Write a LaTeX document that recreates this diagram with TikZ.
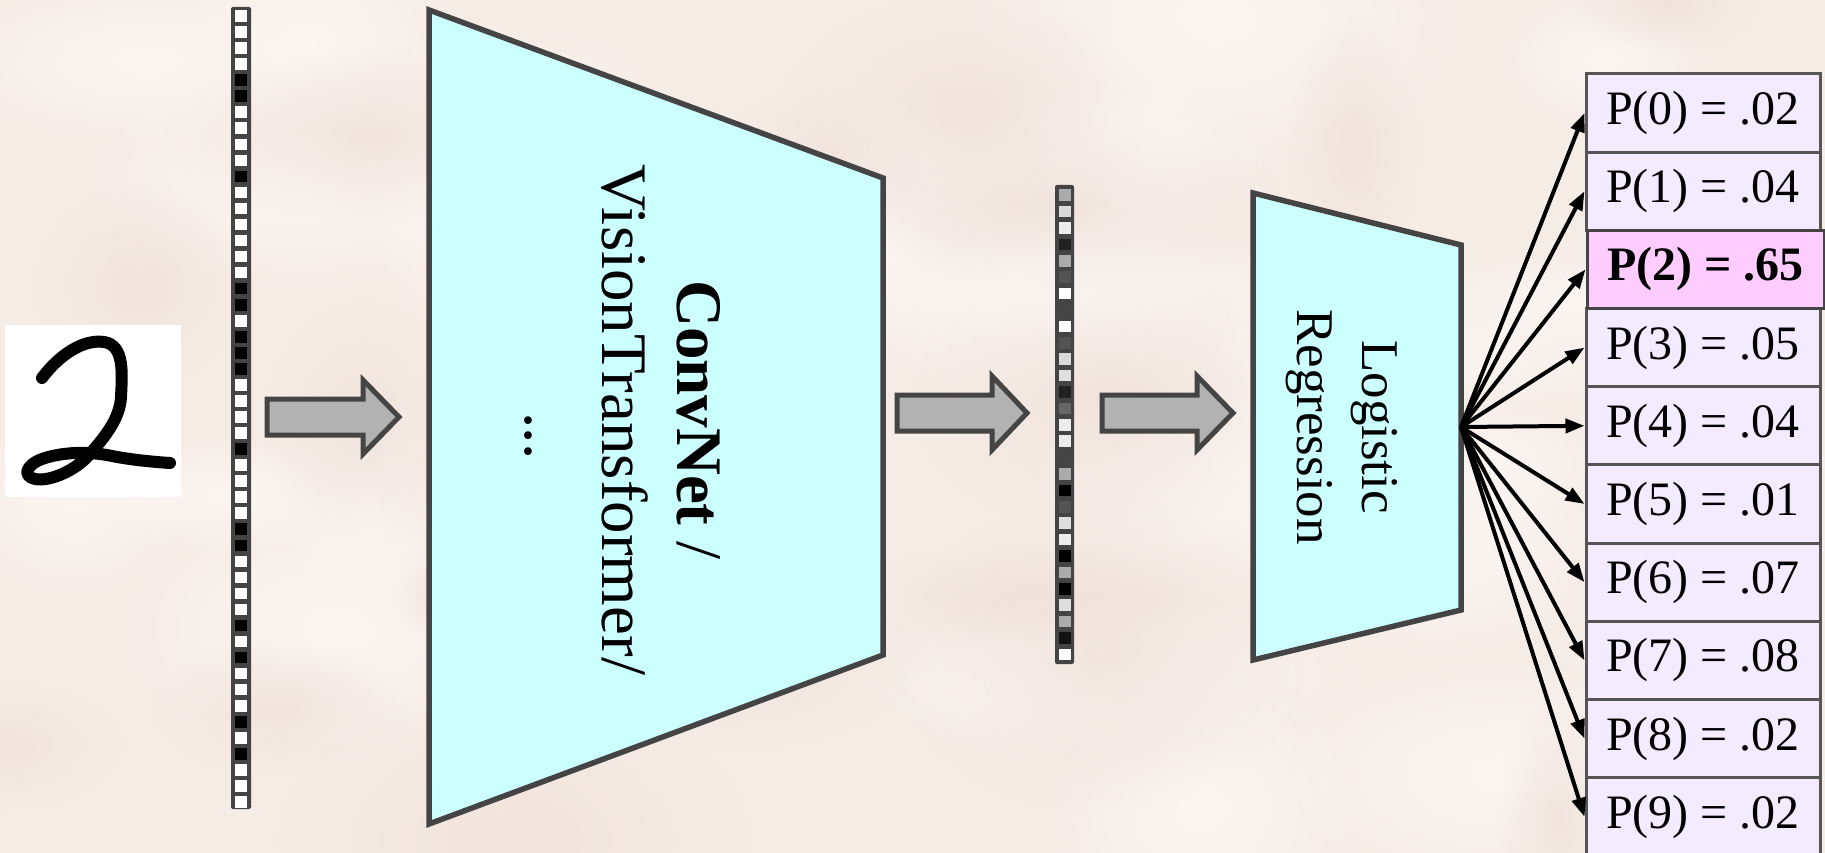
\documentclass[tikz,border=0pt]{standalone}
\usepackage{fontspec}
\setmainfont{Liberation Serif}
\usetikzlibrary{arrows.meta,fadings}

\definecolor{paper}{RGB}{246,236,230}
\definecolor{paperlight}{RGB}{253,248,245}
\definecolor{paperdark}{RGB}{240,226,219}
\definecolor{edgegray}{RGB}{68,68,68}
\definecolor{boxgray}{RGB}{85,85,85}
\definecolor{stagefill}{RGB}{204,255,255}
\definecolor{arrowfill}{RGB}{178,178,178}
\definecolor{lavender}{RGB}{243,235,255}
\definecolor{pickpink}{RGB}{255,204,255}

% soft-edged spot used for the mottled paper
\tikzfading[name=softspot, inner color=transparent!15, outer color=transparent!100]

\tikzset{
  stage/.style={draw=edgegray, line width=5.5pt, fill=stagefill, line join=miter},
  blockarrow/.style={draw=edgegray, line width=5pt, fill=arrowfill, line join=miter},
  vecbar/.style={fill=edgegray, rounded corners=2pt},
  prob/.style={draw=boxgray, line width=3pt, fill=lavender, minimum width=234pt,
    minimum height=78.2pt, inner sep=0pt, font=\fontsize{48}{58}\selectfont},
  probpick/.style={prob, draw=edgegray, fill=pickpink, minimum width=237pt,
    font=\fontsize{48}{58}\selectfont\bfseries},
  fan/.style={line width=4pt, -{Triangle[length=19pt,width=14pt]}},
  vlabel/.style={rotate=-90, anchor=base, inner sep=0pt},
}

% a fat right-pointing arrow: tail x, head base x, tip x, centre y
\newcommand\fatarrow[4]{%
  \draw[blockarrow] (#1,#4-18) -- (#2,#4-18) -- (#2,#4-37) -- (#3,#4)
    -- (#2,#4+37) -- (#2,#4+18) -- (#1,#4+18) -- cycle;}

\begin{document}
\begin{tikzpicture}[x=1pt,y=-1pt]
\useasboundingbox (0,0) rectangle (1825,853);

% parchment background with soft mottling
\fill[paper] (0,0) rectangle (1825,853);
\pgfmathsetseed{11}
\foreach \k in {1,...,30}{
  \pgfmathsetmacro\bx{rnd*1825}
  \pgfmathsetmacro\by{rnd*853}
  \pgfmathsetmacro\brx{80+rnd*220}
  \pgfmathsetmacro\bry{50+rnd*140}
  \fill[paperlight, path fading=softspot] (\bx,\by) ellipse [x radius=\brx, y radius=\bry];
}
\foreach \k in {1,...,18}{
  \pgfmathsetmacro\bx{rnd*1825}
  \pgfmathsetmacro\by{rnd*853}
  \pgfmathsetmacro\brx{60+rnd*180}
  \pgfmathsetmacro\bry{40+rnd*120}
  \fill[paperdark, path fading=softspot] (\bx,\by) ellipse [x radius=\brx, y radius=\bry];
}

% handwritten digit
\fill[white] (5,325) rectangle (181,497);
\draw[line width=12pt, line cap=round, line join=round]
  (42,378) .. controls (60,354) and (84,339) .. (104,342)
  .. controls (125,345) and (122,375) .. (121,397)
  .. controls (120,420) and (102,440) .. (89,455)
  .. controls (76,470) and (50,482) .. (35,479)
  .. controls (22,476) and (26,465) .. (42,459)
  .. controls (62,452) and (88,451) .. (112,456)
  .. controls (132,460) and (155,462) .. (170,463);

% flattened pixel vector
\fill[vecbar] (231,7) rectangle (251,809);
\foreach \g [count=\i from 0] in {1,1,1,1,0,0,1,1,1,1,0,1,1,1,1,1,1,0,0,1,0,0,0,1,1,1,1,0,1,1,1,1,0,0,1,1,1,1,0,1,0,1,1,1,0,1,0,1,1,1}{
  \definecolor{cellc}{gray}{\g}
  \fill[cellc] (235,{10.2+\i*16.04}) rectangle +(12,11.6);
}

\fatarrow{267}{363}{399}{417}

% feature extractor
\draw[stage] (429,10) -- (883,178) -- (883,655) -- (429,824) -- cycle;
\node[vlabel, font=\fontsize{65}{76}\selectfont] (cnnA) at (677,420) {\textbf{ConvNet} /};
\node[vlabel, font=\fontsize{65}{76}\selectfont] (cnnB) at (602,420) {VisionTransformer/};
\node[vlabel, font=\fontsize{65}{76}\selectfont] (cnnC) at (525,436) {.\kern-1pt.\kern-1pt.};

\fatarrow{897}{992}{1027}{413}

% feature vector
\fill[vecbar] (1055,185) rectangle (1074,664);
\foreach \g [count=\i from 0] in {0.67,0.85,0.93,0.13,0.67,0.33,1,0.27,1,0.33,0.85,0.88,0.13,0.4,0.93,0.93,0.27,0.67,0,0.33,0.87,0.93,0,0.67,0,0.87,0.67,0.07,1}{
  \definecolor{cellc}{gray}{\g}
  \fill[cellc] (1059,{189.3+\i*16.4}) rectangle +(12,11.6);
}

\fatarrow{1102}{1197}{1233}{413}

% classifier
\draw[stage] (1253,193) -- (1461,245) -- (1461,610) -- (1253,660) -- cycle;
\coordinate (lrout) at (1461,427);
\node[vlabel, font=\fontsize{53}{65}\selectfont] (lrA) at (1362,427) {Logistic};
\node[vlabel, font=\fontsize{53}{65}\selectfont] (lrB) at (1297,427) {Regression};

% class probabilities
\foreach \i/\v in {0/.02,1/.04,3/.05,4/.04,5/.01,6/.07,7/.08,8/.02,9/.02}{
  \node[prob] (p\i) at (1703,{113+78.2*\i}) {P(\i) = \v};
}
\node[probpick] (p2) at (1705.5,{113+78.2*2}) {P(2) = .65};

\foreach \i in {0,...,9}{
  \draw[fan] (lrout) -- (p\i.west);
}
\end{tikzpicture}
\end{document}
